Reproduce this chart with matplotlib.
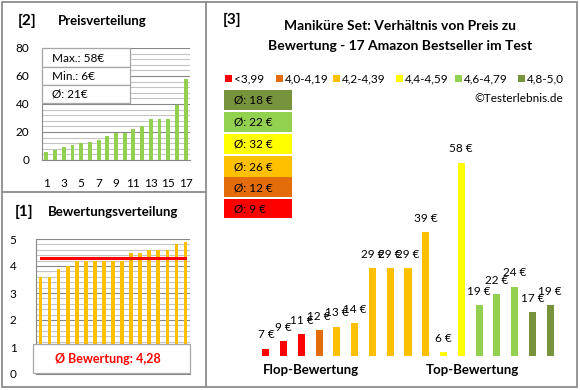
import matplotlib
matplotlib.use("Agg")
import matplotlib.pyplot as plt
from matplotlib.patches import Rectangle

plt.rcParams['font.family'] = ['Lato', 'DejaVu Sans']

# ---------------- data ----------------
price_sorted = [6, 7, 9, 11, 12, 13, 14, 17, 19, 19, 22, 24, 29, 29, 29, 39, 58]
price_ticks = [1, 3, 5, 7, 9, 11, 13, 15, 17]
price_stats = ["Max.: 58€", "Min.: 6€", "Ø: 21€"]

rating_sorted = [3.6, 3.6, 3.9, 4.0, 4.2, 4.2, 4.2, 4.2, 4.2, 4.2, 4.5, 4.5, 4.6, 4.6, 4.6, 4.8, 4.9]
rating_mean = 4.28
rating_label = "Ø Bewertung: 4,28"

main_prices = [7, 9, 11, 12, 13, 14, 29, 29, 29, 39, 6, 58, 19, 22, 24, 17, 19]
main_groups = [0, 0, 0, 1, 2, 2, 2, 2, 2, 2, 3, 3, 4, 4, 4, 5, 5]
group_labels = ["<3,99", "4,0-4,19", "4,2-4,39", "4,4-4,59", "4,6-4,79", "4,8-5,0"]
group_colors = ["#FF0000", "#E46C0A", "#FFC000", "#FFFF00", "#92D050", "#77933C"]
group_avgs = [9, 12, 26, 32, 22, 18]

W, H = 580, 390
fig = plt.figure(figsize=(W / 100, H / 100), dpi=100)
fig.patch.set_facecolor("white")


def ax_px(left, top, right, bottom):
    return fig.add_axes([left / W, (H - bottom) / H, (right - left) / W, (bottom - top) / H])


MAJ = "#878787"
MIN = "#C4C4C4"

# ---------------- price distribution [2] ----------------
ax1 = ax_px(42, 48, 190, 160)
x = list(range(1, len(price_sorted) + 1))
ax1.bar(x, price_sorted, width=0.45, color="#92D050", zorder=3)
ax1.set_xlim(0.5, 17.5)
ax1.set_ylim(0, 80)
ax1.set_yticks([0, 20, 40, 60, 80])
ax1.set_yticks(range(0, 81, 4), minor=True)
ax1.set_xticks(price_ticks)
ax1.grid(axis="y", which="minor", color=MIN, lw=0.8, zorder=0)
ax1.grid(axis="y", which="major", color=MAJ, lw=0.8, zorder=1)
for s in ["top", "right"]:
    ax1.spines[s].set_visible(False)
for s in ["left", "bottom"]:
    ax1.spines[s].set_color(MAJ)
ax1.tick_params(axis="both", which="both", length=0, labelsize=8.5, colors="black")
ax1.tick_params(axis="x", pad=13)
ax1.tick_params(axis="y", pad=9)
ax1.set_facecolor("none")

# ---------------- rating distribution [1] ----------------
ax2 = ax_px(36, 239, 190, 374)
ax2.bar(x, rating_sorted, width=0.4, color="#FFC000", zorder=3)
ax2.plot([1, 17], [rating_mean, rating_mean], color="#FF0000", lw=2.2, zorder=4)
ax2.set_xlim(0.5, 17.5)
ax2.set_ylim(0, 5)
ax2.set_yticks(range(0, 6))
ax2.set_yticks([i * 0.2 for i in range(26)], minor=True)
ax2.set_xticks([])
ax2.grid(axis="y", which="minor", color=MIN, lw=0.8, zorder=0)
ax2.grid(axis="y", which="major", color=MAJ, lw=0.8, zorder=1)
for s in ["top", "right"]:
    ax2.spines[s].set_visible(False)
for s in ["left", "bottom"]:
    ax2.spines[s].set_color(MAJ)
ax2.tick_params(axis="both", which="both", length=0, labelsize=8.5, colors="black")
ax2.tick_params(axis="y", pad=14)
ax2.set_facecolor("none")

# ---------------- main chart [3] ----------------
ax3 = ax_px(257, 119, 559, 356)
xm = list(range(1, len(main_prices) + 1))
cols = [group_colors[g] for g in main_groups]
bars = ax3.bar(xm, main_prices, width=0.4, color=cols, bottom=0)
ax3.set_xlim(0.5, 17.5)
ax3.set_ylim(5, 70)
ax3.axis("off")
for xi, v in zip(xm, main_prices):
    ax3.annotate(f"{v} €", (xi, v), xytext=(0, 10), textcoords="offset points",
                 ha="center", va="center", fontsize=8.5, color="black")

# ---------------- overlay (pixel coordinates) ----------------
ov = fig.add_axes([0, 0, 1, 1])
ov.set_xlim(0, W)
ov.set_ylim(H, 0)
ov.axis("off")
ov.set_zorder(10)

BORDER = "#8C8C8C"
ov.add_patch(Rectangle((2, 2), 575, 385, fill=False, ec=BORDER, lw=1.3))
ov.plot([205.5, 205.5], [2, 387], color=BORDER, lw=1.3)
ov.plot([2, 205.5], [192, 192], color=BORDER, lw=1.3)

# titles
ov.text(18, 21, "[2]", fontsize=11, fontweight="bold", va="center", ha="left")
ov.text(58, 21, "Preisverteilung", fontsize=9.5, fontweight="bold", va="center", ha="left")
ov.text(15, 212, "[1]", fontsize=11, fontweight="bold", va="center", ha="left")
ov.text(48, 212, "Bewertungsverteilung", fontsize=9.5, fontweight="bold", va="center", ha="left")
ov.text(223, 20, "[3]", fontsize=11, fontweight="bold", va="center", ha="left")
ov.text(400, 26, "Maniküre Set: Verhältnis von Preis zu", fontsize=10, fontweight="bold",
        va="center", ha="center")
ov.text(400, 46, "Bewertung - 17 Amazon Bestseller im Test", fontsize=10, fontweight="bold",
        va="center", ha="center")

# stats box in price chart
rows = [(48, 67), (67, 85), (85, 103)]
for (t, b), s in zip(rows, price_stats):
    ov.add_patch(Rectangle((42, t), 88, b - t, fc="white", ec="#A6A6A6", lw=0.9))
    ov.text(52, (t + b) / 2 + 0.5, s, fontsize=8.5, va="center", ha="left")

# rating label box
ov.add_patch(Rectangle((33, 344), 157, 29, fc="white", ec="#A6A6A6", lw=0.9))
ov.text(108, 359, rating_label, fontsize=9, fontweight="bold", color="#FF0000",
        va="center", ha="center")

# legend row
leg_sq_x = [225, 276, 333, 396, 455, 518]
for sx, c, lab in zip(leg_sq_x, group_colors, group_labels):
    ov.add_patch(Rectangle((sx - 0.5, 74.5), 7, 7, fc=c, ec="none"))
    ov.text(sx + 9, 78.5, lab, fontsize=8.5, va="center", ha="left")

ov.text(563, 98, "©Testerlebnis.de", fontsize=8.5, va="center", ha="right")

# average boxes (top: best group)
box_rows = [(90, 110), (112, 132), (134, 154), (156, 177), (177, 197), (199, 218)]
for (t, b), g in zip(box_rows, [5, 4, 3, 2, 1, 0]):
    ax_t = ov.add_patch(Rectangle((224, t), 68, b - t, fc=group_colors[g], ec="none"))
    ov.text(234, (t + b) / 2 + 0.5, f"Ø: {group_avgs[g]} €", fontsize=8.5, va="center", ha="left")

ov.text(263, 370, "Flop-Bewertung", fontsize=9.5, fontweight="bold", va="center", ha="left")
ov.text(426, 370, "Top-Bewertung", fontsize=9.5, fontweight="bold", va="center", ha="left")

fig.savefig("out.png", dpi=100, facecolor="white")
